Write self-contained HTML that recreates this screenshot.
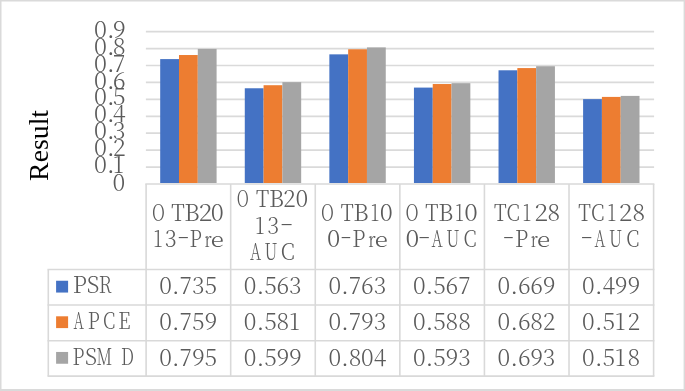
<!DOCTYPE html>
<html lang="en"><head><meta charset="utf-8"><title>Result chart</title>
<style>html,body{margin:0;padding:0;background:#fff}body{width:685px;height:391px;overflow:hidden}svg{display:block}
.t{font-family:"Noto Serif CJK SC","Liberation Serif",serif;font-size:23.5px;font-weight:300;fill:#5b5b5b}
.s{font-size:20.4px}.c{font-size:22.9px}.v{font-size:23px}
.y{font-family:"Noto Serif CJK SC","Liberation Serif",serif;font-size:23.5px;font-weight:300;fill:#5b5b5b}
.r{font-family:"Liberation Serif","Noto Serif CJK SC",serif;font-size:26.7px;fill:#000}
</style></head><body>
<svg width="685" height="391" viewBox="0 0 685 391">
<rect x="0" y="0" width="685" height="391" fill="#fff"/>
<path fill="#dadada" d="M0 0H685V391H0ZM1.5 1.5V389H683.6V1.5Z" fill-rule="evenodd"/>
<g stroke="#dadada" stroke-width="1.7">
<line x1="145.9" y1="167.07" x2="654.1" y2="167.07"/>
<line x1="145.9" y1="150.14" x2="654.1" y2="150.14"/>
<line x1="145.9" y1="133.21" x2="654.1" y2="133.21"/>
<line x1="145.9" y1="116.28" x2="654.1" y2="116.28"/>
<line x1="145.9" y1="99.35" x2="654.1" y2="99.35"/>
<line x1="145.9" y1="82.42" x2="654.1" y2="82.42"/>
<line x1="145.9" y1="65.49" x2="654.1" y2="65.49"/>
<line x1="145.9" y1="48.56" x2="654.1" y2="48.56"/>
<line x1="145.9" y1="31.63" x2="654.1" y2="31.63"/>
</g>
<rect x="160.19" y="59.09" width="18.80" height="123.91" fill="#4472c4"/>
<rect x="178.99" y="55.02" width="18.80" height="127.98" fill="#ed7d31"/>
<rect x="197.79" y="48.92" width="18.80" height="134.08" fill="#a5a5a5"/>
<rect x="244.78" y="88.27" width="18.80" height="94.73" fill="#4472c4"/>
<rect x="263.58" y="85.21" width="18.80" height="97.79" fill="#ed7d31"/>
<rect x="282.38" y="82.16" width="18.80" height="100.84" fill="#a5a5a5"/>
<rect x="329.36" y="54.35" width="18.80" height="128.65" fill="#4472c4"/>
<rect x="348.16" y="49.26" width="18.80" height="133.74" fill="#ed7d31"/>
<rect x="366.96" y="47.39" width="18.80" height="135.61" fill="#a5a5a5"/>
<rect x="413.94" y="87.59" width="18.80" height="95.41" fill="#4472c4"/>
<rect x="432.74" y="84.03" width="18.80" height="98.97" fill="#ed7d31"/>
<rect x="451.54" y="83.18" width="18.80" height="99.82" fill="#a5a5a5"/>
<rect x="498.53" y="70.29" width="18.80" height="112.71" fill="#4472c4"/>
<rect x="517.33" y="68.08" width="18.80" height="114.92" fill="#ed7d31"/>
<rect x="536.12" y="66.22" width="18.80" height="116.78" fill="#a5a5a5"/>
<rect x="583.11" y="99.12" width="18.80" height="83.88" fill="#4472c4"/>
<rect x="601.91" y="96.91" width="18.80" height="86.09" fill="#ed7d31"/>
<rect x="620.71" y="95.90" width="18.80" height="87.10" fill="#a5a5a5"/>
<g stroke="#d9d9d9" stroke-width="1.6" fill="none">
<line x1="145.3" y1="184" x2="654.4" y2="184"/>
<line x1="47.5" y1="269.45" x2="654.4" y2="269.45"/>
<line x1="47.5" y1="305.00" x2="654.4" y2="305.00"/>
<line x1="47.5" y1="340.70" x2="654.4" y2="340.70"/>
<line x1="47.5" y1="376.10" x2="654.4" y2="376.10"/>
<line x1="48.3" y1="269.45" x2="48.3" y2="376.10"/>
<line x1="146.10" y1="184" x2="146.10" y2="376.10"/>
<line x1="230.68" y1="184" x2="230.68" y2="376.10"/>
<line x1="315.27" y1="184" x2="315.27" y2="376.10"/>
<line x1="399.85" y1="184" x2="399.85" y2="376.10"/>
<line x1="484.43" y1="184" x2="484.43" y2="376.10"/>
<line x1="569.02" y1="184" x2="569.02" y2="376.10"/>
<line x1="653.60" y1="184" x2="653.60" y2="376.10"/>
</g>
<text class="y" x="112.6" y="190.8">0</text>
<text class="y" x="93.9 106.9 112.8" y="173.05">0.1</text>
<text class="y" x="93.9 106.9 112.8" y="156.15">0.2</text>
<text class="y" x="93.9 106.9 112.8" y="139.25">0.3</text>
<text class="y" x="93.9 106.9 112.8" y="122.35">0.4</text>
<text class="y" x="93.9 106.9 112.8" y="105.45">0.5</text>
<text class="y" x="93.9 106.9 112.8" y="88.55">0.6</text>
<text class="y" x="93.9 106.9 112.8" y="71.65">0.7</text>
<text class="y" x="93.9 106.9 112.8" y="54.75">0.8</text>
<text class="y" x="93.9 106.9 112.8" y="37.85">0.9</text>
<text class="r" transform="translate(47.6 180.9) rotate(-90)" textLength="71" lengthAdjust="spacingAndGlyphs">Result</text>
<text class="t"><tspan class="c" x="152.1" y="221.0" textLength="12.90" lengthAdjust="spacingAndGlyphs">O</tspan><tspan class="c" x="171.2" y="221.0" textLength="13.44" lengthAdjust="spacingAndGlyphs">T</tspan><tspan class="c" x="184.3" y="221.0" textLength="15.43" lengthAdjust="spacingAndGlyphs">B</tspan><tspan x="198.7" y="221.0" textLength="13.63" lengthAdjust="spacingAndGlyphs">2</tspan><tspan x="210.7" y="221.0" textLength="13.04" lengthAdjust="spacingAndGlyphs">0</tspan></text>
<text class="t"><tspan x="153.0" y="247.1" textLength="10.00" lengthAdjust="spacingAndGlyphs">1</tspan><tspan x="164.8" y="247.1" textLength="11.91" lengthAdjust="spacingAndGlyphs">3</tspan><tspan x="177.3" y="244.2" textLength="12.17" lengthAdjust="spacingAndGlyphs">-</tspan><tspan class="c" x="189.4" y="247.1" textLength="12.34" lengthAdjust="spacingAndGlyphs">P</tspan><tspan class="s" x="204.5" y="247.1" textLength="7.21" lengthAdjust="spacingAndGlyphs">r</tspan><tspan class="s" x="210.8" y="247.1" textLength="13.16" lengthAdjust="spacingAndGlyphs">e</tspan></text>
<text class="t"><tspan class="c" x="236.8" y="207.4" textLength="12.11" lengthAdjust="spacingAndGlyphs">O</tspan><tspan class="c" x="256.1" y="207.4" textLength="13.13" lengthAdjust="spacingAndGlyphs">T</tspan><tspan class="c" x="269.0" y="207.4" textLength="14.98" lengthAdjust="spacingAndGlyphs">B</tspan><tspan x="283.3" y="207.4" textLength="12.45" lengthAdjust="spacingAndGlyphs">2</tspan><tspan x="295.4" y="207.4" textLength="12.69" lengthAdjust="spacingAndGlyphs">0</tspan></text>
<text class="t"><tspan x="254.9" y="233.5" textLength="9.61" lengthAdjust="spacingAndGlyphs">1</tspan><tspan x="267.2" y="233.5" textLength="12.03" lengthAdjust="spacingAndGlyphs">3</tspan><tspan x="279.9" y="230.6" textLength="13.29" lengthAdjust="spacingAndGlyphs">-</tspan></text>
<text class="t"><tspan class="c" x="250.0" y="259.7" textLength="11.15" lengthAdjust="spacingAndGlyphs">A</tspan><tspan class="c" x="264.4" y="259.7" textLength="12.94" lengthAdjust="spacingAndGlyphs">U</tspan><tspan class="c" x="280.8" y="259.7" textLength="14.04" lengthAdjust="spacingAndGlyphs">C</tspan></text>
<text class="t"><tspan class="c" x="321.1" y="221.0" textLength="12.90" lengthAdjust="spacingAndGlyphs">O</tspan><tspan class="c" x="340.7" y="221.0" textLength="12.92" lengthAdjust="spacingAndGlyphs">T</tspan><tspan class="c" x="353.3" y="221.0" textLength="15.43" lengthAdjust="spacingAndGlyphs">B</tspan><tspan x="370.2" y="221.0" textLength="9.35" lengthAdjust="spacingAndGlyphs">1</tspan><tspan x="379.7" y="221.0" textLength="13.04" lengthAdjust="spacingAndGlyphs">0</tspan></text>
<text class="t"><tspan x="327.0" y="247.1" textLength="13.27" lengthAdjust="spacingAndGlyphs">0</tspan><tspan x="340.2" y="244.2" textLength="11.43" lengthAdjust="spacingAndGlyphs">-</tspan><tspan class="c" x="352.3" y="247.1" textLength="13.12" lengthAdjust="spacingAndGlyphs">P</tspan><tspan class="s" x="368.2" y="247.1" textLength="7.42" lengthAdjust="spacingAndGlyphs">r</tspan><tspan class="s" x="374.7" y="247.1" textLength="13.16" lengthAdjust="spacingAndGlyphs">e</tspan></text>
<text class="t"><tspan class="c" x="405.6" y="221.0" textLength="13.12" lengthAdjust="spacingAndGlyphs">O</tspan><tspan class="c" x="425.2" y="221.0" textLength="13.13" lengthAdjust="spacingAndGlyphs">T</tspan><tspan class="c" x="438.3" y="221.0" textLength="15.10" lengthAdjust="spacingAndGlyphs">B</tspan><tspan x="454.7" y="221.0" textLength="9.48" lengthAdjust="spacingAndGlyphs">1</tspan><tspan x="464.3" y="221.0" textLength="13.51" lengthAdjust="spacingAndGlyphs">0</tspan></text>
<text class="t"><tspan x="405.4" y="247.1" textLength="13.74" lengthAdjust="spacingAndGlyphs">0</tspan><tspan x="417.9" y="244.2" textLength="12.42" lengthAdjust="spacingAndGlyphs">-</tspan><tspan class="c" x="431.6" y="247.1" textLength="11.15" lengthAdjust="spacingAndGlyphs">A</tspan><tspan class="c" x="446.2" y="247.1" textLength="13.27" lengthAdjust="spacingAndGlyphs">U</tspan><tspan class="c" x="463.6" y="247.1" textLength="13.12" lengthAdjust="spacingAndGlyphs">C</tspan></text>
<text class="t"><tspan class="c" x="493.9" y="221.0" textLength="12.62" lengthAdjust="spacingAndGlyphs">T</tspan><tspan class="c" x="506.4" y="221.0" textLength="13.35" lengthAdjust="spacingAndGlyphs">C</tspan><tspan x="522.3" y="221.0" textLength="9.35" lengthAdjust="spacingAndGlyphs">1</tspan><tspan x="534.4" y="221.0" textLength="13.63" lengthAdjust="spacingAndGlyphs">2</tspan><tspan x="547.6" y="221.0" textLength="12.57" lengthAdjust="spacingAndGlyphs">8</tspan></text>
<text class="t"><tspan x="502.8" y="244.2" textLength="11.43" lengthAdjust="spacingAndGlyphs">-</tspan><tspan class="c" x="515.1" y="247.1" textLength="13.23" lengthAdjust="spacingAndGlyphs">P</tspan><tspan class="s" x="530.8" y="247.1" textLength="7.10" lengthAdjust="spacingAndGlyphs">r</tspan><tspan class="s" x="537.0" y="247.1" textLength="13.27" lengthAdjust="spacingAndGlyphs">e</tspan></text>
<text class="t"><tspan class="c" x="578.3" y="221.0" textLength="12.62" lengthAdjust="spacingAndGlyphs">T</tspan><tspan class="c" x="590.9" y="221.0" textLength="13.46" lengthAdjust="spacingAndGlyphs">C</tspan><tspan x="606.9" y="221.0" textLength="9.61" lengthAdjust="spacingAndGlyphs">1</tspan><tspan x="618.9" y="221.0" textLength="13.39" lengthAdjust="spacingAndGlyphs">2</tspan><tspan x="632.4" y="221.0" textLength="12.57" lengthAdjust="spacingAndGlyphs">8</tspan></text>
<text class="t"><tspan x="580.5" y="244.2" textLength="12.42" lengthAdjust="spacingAndGlyphs">-</tspan><tspan class="c" x="594.5" y="247.1" textLength="10.86" lengthAdjust="spacingAndGlyphs">A</tspan><tspan class="c" x="608.9" y="247.1" textLength="13.16" lengthAdjust="spacingAndGlyphs">U</tspan><tspan class="c" x="626.2" y="247.1" textLength="13.12" lengthAdjust="spacingAndGlyphs">C</tspan></text>
<rect x="56.1" y="280.75" width="12" height="11.8" fill="#4472c4"/>
<text class="t"><tspan class="c" x="72.8" y="293.4" textLength="14.12" lengthAdjust="spacingAndGlyphs">P</tspan><tspan class="c" x="86.8" y="293.4" textLength="12.66" lengthAdjust="spacingAndGlyphs">S</tspan><tspan class="c" x="98.8" y="293.4" textLength="13.13" lengthAdjust="spacingAndGlyphs">R</tspan></text>
<text class="t v" x="159.2 172.1 179.6 191.9 204.5" y="294.3">0.735</text>
<text class="t v" x="243.8 256.7 264.2 276.5 289.1" y="294.3">0.563</text>
<text class="t v" x="328.4 341.3 348.8 361.1 373.7" y="294.3">0.763</text>
<text class="t v" x="412.9 425.8 433.3 445.6 458.2" y="294.3">0.567</text>
<text class="t v" x="497.5 510.4 517.9 530.2 542.8" y="294.3">0.669</text>
<text class="t v" x="582.1 595.0 602.5 614.8 627.4" y="294.3">0.499</text>
<rect x="56.1" y="316.30" width="12" height="11.8" fill="#ed7d31"/>
<text class="t"><tspan class="c" x="73.4" y="329.0" textLength="10.37" lengthAdjust="spacingAndGlyphs">A</tspan><tspan class="c" x="87.8" y="329.0" textLength="12.01" lengthAdjust="spacingAndGlyphs">P</tspan><tspan class="c" x="102.9" y="329.0" textLength="12.32" lengthAdjust="spacingAndGlyphs">C</tspan><tspan class="c" x="118.3" y="329.0" textLength="12.29" lengthAdjust="spacingAndGlyphs">E</tspan></text>
<text class="t v" x="159.2 172.1 179.6 191.9 204.5" y="329.9">0.759</text>
<text class="t v" x="243.8 256.7 264.2 276.5 289.1" y="329.9">0.581</text>
<text class="t v" x="328.4 341.3 348.8 361.1 373.7" y="329.9">0.793</text>
<text class="t v" x="412.9 425.8 433.3 445.6 458.2" y="329.9">0.588</text>
<text class="t v" x="497.5 510.4 517.9 530.2 542.8" y="329.9">0.682</text>
<text class="t v" x="582.1 595.0 602.5 614.8 627.4" y="329.9">0.512</text>
<rect x="56.1" y="351.95" width="12" height="11.8" fill="#a5a5a5"/>
<text class="t"><tspan class="c" x="72.6" y="364.6" textLength="11.90" lengthAdjust="spacingAndGlyphs">P</tspan><tspan class="c" x="84.9" y="364.6" textLength="12.08" lengthAdjust="spacingAndGlyphs">S</tspan><tspan class="c" x="96.6" y="364.6" textLength="15.69" lengthAdjust="spacingAndGlyphs">M</tspan><tspan class="c" x="121.0" y="364.6" textLength="12.98" lengthAdjust="spacingAndGlyphs">D</tspan></text>
<text class="t v" x="159.2 172.1 179.6 191.9 204.5" y="365.5">0.795</text>
<text class="t v" x="243.8 256.7 264.2 276.5 289.1" y="365.5">0.599</text>
<text class="t v" x="328.4 341.3 348.8 361.1 373.7" y="365.5">0.804</text>
<text class="t v" x="412.9 425.8 433.3 445.6 458.2" y="365.5">0.593</text>
<text class="t v" x="497.5 510.4 517.9 530.2 542.8" y="365.5">0.693</text>
<text class="t v" x="582.1 595.0 602.5 614.8 627.4" y="365.5">0.518</text>
</svg>
</body></html>
